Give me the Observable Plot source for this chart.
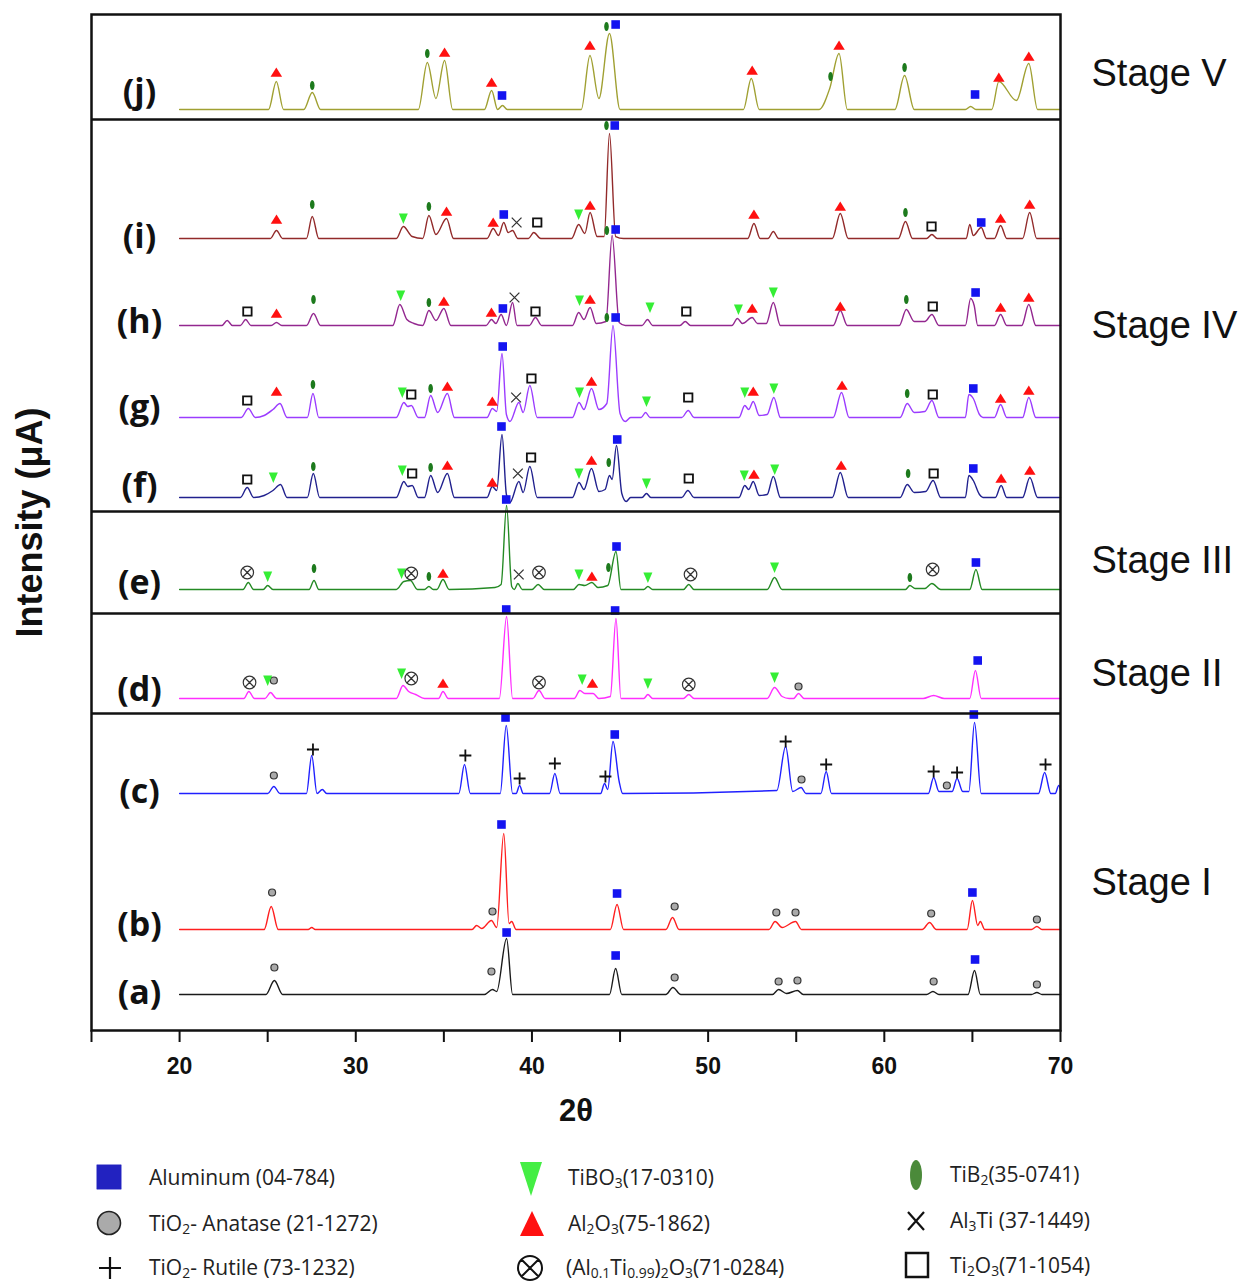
<!DOCTYPE html>
<html><head><meta charset="utf-8">
<script src="https://cdn.jsdelivr.net/npm/d3@7"></script>
<script src="https://cdn.jsdelivr.net/npm/@observablehq/plot@0.6"></script>
<style>
body{margin:0;background:#fff;font-family:"Open Sans",sans-serif;}
#wrap{position:relative;width:1243px;height:1285px;overflow:hidden;background:#fff}
#legend{position:relative;width:1243px;height:135px}
.lg{position:absolute;font-size:21px;color:#222;white-space:nowrap;line-height:1;transform:translateY(-50%)}
.lg sub{font-size:0.66em;vertical-align:-0.25em;line-height:0}
</style></head><body><div id="wrap"></div>
<script>
// ---- x-ray diffraction patterns: [2θ, intensity above own baseline] ----
const pj = [[20,0],[25.05,0],[25.49,28],[25.9,0],[27.05,0],[27.53,17],[28.0,0],[33.55,0],[34.06,47],[34.55,11],[35.04,49],[35.5,0],[37.3,0],[37.71,19],[38.05,0],[38.33,4],[38.6,0],[42.8,0],[43.29,54],[43.8,11],[44.4,76],[45.0,0],[52.0,0],[52.45,31],[52.9,0],[56.3,0],[56.9,21],[57.43,56],[57.9,0],[60.6,0],[61.15,34],[61.7,0],[64.6,0],[64.9,3],[65.2,0],[66.1,0],[66.5,28],[67.5,9],[68.2,46],[68.7,0],[70,0]];
const pi = [[20,0],[25.15,0],[25.5,8],[25.85,0],[27.2,0],[27.53,22],[27.9,0],[32.3,0],[32.7,12],[33.2,2],[33.8,0],[34.15,23],[34.55,4],[35.15,20],[35.55,0],[37.45,0],[37.8,10],[38.1,3],[38.4,16],[38.65,6],[38.9,8],[39.2,0],[39.8,0],[40.1,6],[40.5,0],[42.25,0],[42.65,14],[43.0,5],[43.3,26],[43.7,2],[44.1,2],[44.4,105],[44.75,2],[45.2,0],[52.25,0],[52.6,15],[52.95,0],[53.4,0],[53.7,7],[54.0,0],[57.05,0],[57.5,25],[57.95,0],[60.8,0],[61.2,17],[61.6,0],[62.4,0],[62.7,4],[63.0,0],[64.65,0],[64.85,14],[65.05,3],[65.5,11],[65.8,0],[66.25,0],[66.6,13],[66.95,0],[67.85,0],[68.25,26],[68.65,0],[70,0]];
const ph = [[20,0],[22.4,0],[22.7,5],[23.0,0],[23.45,0],[23.75,6],[24.05,0],[25.2,0],[25.5,3],[25.8,0],[27.2,0],[27.6,12],[28.0,0],[32.1,0],[32.5,21],[32.9,6],[33.3,2],[33.8,0],[34.15,15],[34.55,5],[35.0,17],[35.4,0],[37.4,0],[37.7,6],[37.95,2],[38.25,11],[38.55,0],[38.9,23],[39.15,0],[39.85,0],[40.2,8],[40.55,0],[42.3,0],[42.65,13],[42.95,6],[43.3,18],[43.65,2],[44.2,4],[44.55,90],[44.95,3],[45.3,0],[46.25,0],[46.56,6],[46.85,0],[48.4,0],[48.7,4],[49.0,0],[51.35,0],[51.66,7],[51.95,2],[52.5,8],[52.8,2],[53.3,2],[53.7,23],[54.1,0],[57.1,0],[57.5,15],[57.9,0],[60.85,0],[61.25,16],[61.7,4],[62.3,4],[62.7,11],[63.1,0],[64.6,0],[64.9,27],[65.1,20],[65.3,0],[66.25,0],[66.6,11],[66.95,0],[67.8,0],[68.2,21],[68.6,0],[70,0]];
const pg = [[20,0],[23.5,0],[23.9,9],[24.3,0],[24.8,2],[25.3,8],[25.7,14],[26.1,0],[27.25,0],[27.57,24],[27.9,0],[32.3,0],[32.73,15],[32.95,11],[33.15,12],[33.55,0],[33.9,0],[34.25,22],[34.65,5],[35.2,24],[35.6,0],[37.45,0],[37.75,9],[38.0,6],[38.3,64],[38.55,3],[38.75,-4],[39.26,15],[39.5,5],[39.88,32],[40.3,0],[42.3,0],[42.67,15],[42.95,8],[43.38,29],[43.8,8],[44.25,14],[44.6,92],[45.0,4],[45.3,-4],[45.6,0],[46.2,0],[46.45,5],[46.7,0],[48.5,0],[48.87,7],[49.2,0],[51.75,0],[52.08,12],[52.3,8],[52.56,16],[52.9,2],[53.35,3],[53.73,20],[54.1,0],[57.1,0],[57.57,25],[58.0,0],[60.9,0],[61.3,14],[61.7,5],[62.3,6],[62.7,17],[63.1,0],[64.6,0],[64.8,23],[65.05,19],[65.4,3],[65.6,0],[66.25,0],[66.6,13],[66.95,0],[67.85,0],[68.2,20],[68.6,0],[70,0]];
const pf = [[20,0],[23.45,0],[23.84,10],[24.2,0],[24.8,2],[25.3,7],[25.73,13],[26.1,0],[27.25,0],[27.59,24],[27.95,0],[32.3,0],[32.73,16],[32.95,11],[33.2,12],[33.55,0],[33.9,0],[34.25,22],[34.65,5],[35.2,24],[35.6,0],[37.45,0],[37.75,11],[38.0,7],[38.3,63],[38.55,3],[38.75,-5],[39.26,16],[39.5,5],[39.88,31],[40.3,0],[42.3,0],[42.67,15],[42.95,8],[43.38,29],[43.8,6],[44.15,8],[44.4,22],[44.55,18],[44.8,52],[45.1,4],[45.35,-4],[45.6,0],[46.25,0],[46.5,4],[46.75,0],[48.5,0],[48.85,7],[49.2,0],[51.75,0],[52.08,12],[52.3,8],[52.56,16],[52.9,2],[53.35,3],[53.7,21],[54.1,0],[57.05,0],[57.5,25],[57.95,0],[60.9,0],[61.3,13],[61.7,5],[62.35,6],[62.77,17],[63.2,0],[64.6,0],[64.8,22],[65.05,17],[65.4,3],[65.6,0],[66.3,0],[66.63,12],[66.95,0],[67.85,0],[68.26,20],[68.7,0],[70,0]];
const pe = [[20,0],[23.6,0],[23.9,7],[24.2,0],[24.75,0],[25.0,4],[25.3,0],[27.35,0],[27.63,9],[27.9,0],[32.3,0],[32.73,8],[33.1,9],[33.5,0],[33.9,0],[34.15,3],[34.4,0],[34.6,0],[34.95,10],[35.3,0],[37.9,2],[38.25,5],[38.56,84],[38.85,3],[39.0,0],[39.2,6],[39.45,0],[40.0,0],[40.35,5],[40.7,0],[42.35,0],[42.67,5],[43.0,4],[43.4,7],[43.75,2],[44.3,4],[44.77,38],[45.05,0],[46.35,0],[46.58,3],[46.85,0],[48.6,0],[48.9,5],[49.2,0],[53.35,0],[53.77,12],[54.2,0],[61.2,0],[61.45,4],[61.75,1],[62.3,1],[62.7,6],[63.2,0],[64.85,0],[65.2,20],[65.55,0],[70,0]];
const pd = [[20,0],[23.65,0],[23.93,7],[24.25,0],[24.85,0],[25.16,6],[25.5,0],[32.3,0],[32.68,13],[33.0,7],[33.4,4],[33.9,0],[34.7,0],[34.95,7],[35.25,0],[38.15,0],[38.56,82],[38.9,0],[40.05,0],[40.4,8],[40.75,0],[42.4,0],[42.72,8],[43.0,5],[43.47,5],[43.8,0],[44.45,2],[44.77,80],[45.05,0],[46.35,0],[46.58,4],[46.85,0],[48.6,0],[48.9,4],[49.2,0],[53.35,0],[53.77,11],[54.2,2],[54.6,0],[54.85,0],[55.13,5],[55.45,0],[62.2,0],[62.8,3],[63.4,0],[64.85,0],[65.17,28],[65.5,0],[70,0]];
const pc = [[20,0],[25.0,0],[25.35,7],[25.7,0],[27.2,0],[27.5,38],[27.8,0],[28.1,4],[28.35,0],[35.85,0],[36.17,29],[36.5,0],[38.2,0],[38.54,68],[38.9,0],[39.1,0],[39.3,8],[39.5,0],[41.0,0],[41.3,20],[41.6,0],[43.9,0],[44.12,10],[44.3,4],[44.6,52],[44.95,12],[45.15,0],[53.9,3],[54.4,47],[54.8,2],[55.28,6],[55.55,0],[56.4,0],[56.7,22],[57.0,0],[62.5,0],[62.8,16],[63.1,2],[63.55,2],[63.85,2],[64.13,15],[64.45,2],[64.8,2],[65.12,71],[65.5,0],[68.75,0],[69.1,21],[69.45,0],[69.7,0],[69.9,8],[70,4]];
const pb = [[20,0],[24.8,0],[25.2,23],[25.6,0],[27.3,0],[27.5,2],[27.7,0],[36.6,0],[36.86,4],[37.15,1],[37.7,9],[38.0,2],[38.4,96],[38.7,6],[38.85,8],[39.1,0],[44.45,0],[44.83,25],[45.2,0],[47.6,0],[47.98,12],[48.35,0],[53.45,0],[53.8,8],[54.2,2],[54.96,8],[55.3,0],[62.15,0],[62.57,7],[62.95,0],[64.7,0],[65.0,29],[65.3,4],[65.45,8],[65.7,0],[68.35,0],[68.66,3],[68.95,0],[70,0]];
const pa = [[20,0],[24.9,0],[25.38,14],[25.85,0],[37.3,0],[37.76,5],[38.0,3],[38.56,56],[38.9,0],[44.4,0],[44.75,26],[45.1,0],[47.6,0],[48.0,7],[48.45,0],[53.65,0],[54.0,5],[54.45,1],[55.07,4],[55.4,0],[62.4,0],[62.76,3],[63.1,0],[64.75,0],[65.12,24],[65.45,0],[68.35,0],[68.66,2],[68.95,0],[70,0]];

// ---- phase markers: [phase, 2θ, intensity above own baseline] ----
const mj = [["AO",25.49,37],["TiB2",27.53,24],["TiB2",34.06,56],["AO",35.04,57],["AO",37.71,27],["Al",38.3,14],["AO",43.29,64],["TiB2",44.23,83],["Al",44.75,85],["AO",52.5,39],["TiB2",56.95,33],["AO",57.43,64],["TiB2",61.15,42],["Al",65.15,15],["AO",66.5,32],["AO",68.2,53]];
const mi = [["AO",25.5,19],["TiB2",27.53,34],["TB",32.7,20],["TiB2",34.15,32],["AO",35.15,27],["AO",37.8,16],["Al",38.4,24],["Al3Ti",39.13,16],["T2O3",40.3,16],["TB",42.65,24],["AO",43.3,33],["TiB2",44.23,113],["Al",44.7,113],["AO",52.6,24],["AO",57.5,32],["TiB2",61.2,26],["T2O3",62.68,12],["Al",65.5,16],["AO",66.6,20],["AO",68.25,34]];
const mh = [["T2O3",23.85,14],["AO",25.5,12],["TiB2",27.6,26],["TB",32.55,30],["TiB2",34.15,23],["AO",35.0,24],["AO",37.7,13],["Al",38.35,17],["Al3Ti",39.01,28],["T2O3",40.2,14],["TB",42.7,25],["AO",43.3,26],["TiB2",44.25,95],["Al",44.75,96],["TB",46.7,18],["T2O3",48.76,14],["TB",51.72,16],["AO",52.5,17],["TB",53.7,33],["AO",57.5,19],["TiB2",61.25,26],["T2O3",62.75,19],["Al",65.18,33],["AO",66.6,18],["AO",68.2,28]];
const mg = [["T2O3",23.84,17],["AO",25.5,26],["TiB2",27.57,33],["TB",32.64,25],["T2O3",33.15,23],["TiB2",34.25,29],["AO",35.2,31],["AO",37.75,16],["Al",38.34,71],["Al3Ti",39.1,20],["T2O3",39.97,39],["TB",42.7,25],["AO",43.38,36],["TiB2",44.25,100],["Al",44.75,100],["TB",46.5,16],["T2O3",48.87,20],["TB",52.08,25],["AO",52.56,26],["TB",53.73,29],["AO",57.6,32],["TiB2",61.3,24],["T2O3",62.75,23],["Al",65.05,29],["AO",66.6,19],["AO",68.2,27]];
const mf = [["T2O3",23.84,18],["TB",25.32,20],["TiB2",27.59,31],["TB",32.64,27],["T2O3",33.2,24],["TiB2",34.25,30],["AO",35.2,32],["AO",37.75,15],["Al",38.27,71],["Al3Ti",39.2,24],["T2O3",39.95,40],["TB",42.67,24],["AO",43.38,37],["TiB2",44.36,35],["Al",44.84,58],["TB",46.5,14],["T2O3",48.9,19],["TB",52.05,22],["AO",52.6,23],["TB",53.78,28],["AO",57.55,32],["TiB2",61.35,24],["T2O3",62.8,24],["Al",65.05,29],["AO",66.63,19],["AO",68.26,27]];
const me = [["AT",23.84,17],["TB",25.0,13],["TiB2",27.63,21],["TB",32.6,16],["AT",33.15,16],["TiB2",34.15,13],["AO",34.95,16],["Al",38.54,90],["Al3Ti",39.25,15],["AT",40.4,17],["TB",42.67,15],["AO",43.4,13],["TiB2",44.34,22],["Al",44.8,43],["TB",46.58,12],["AT",49.0,15],["TB",53.77,22],["TiB2",61.45,12],["AT",62.74,20],["Al",65.2,27]];
const md = [["AT",23.97,16],["TB",25.0,18],["An",25.35,18],["TB",32.6,25],["AT",33.15,20],["AO",34.95,15],["Al",38.54,89],["AT",40.4,16],["TB",42.85,19],["AO",43.43,15],["Al",44.72,88],["TB",46.58,15],["AT",48.9,14],["TB",53.77,21],["An",55.13,12],["Al",65.3,38]];
const mc = [["An",25.35,18],["Ru",27.57,44],["Ru",36.22,38],["Al",38.5,76],["Ru",39.3,15],["Ru",41.3,30],["Ru",44.17,17],["Al",44.7,59],["Ru",54.4,52],["An",55.3,14],["Ru",56.7,29],["Ru",62.8,22],["An",63.55,8],["Ru",64.13,21],["Al",65.08,79],["Ru",69.15,29]];
const mb = [["An",25.25,37],["An",37.76,18],["Al",38.27,105],["Al",44.83,36],["An",48.1,23],["An",53.87,17],["An",54.96,17],["An",62.66,16],["Al",65.0,37],["An",68.66,10]];
const ma = [["An",25.38,27],["An",37.7,23],["Al",38.56,62],["Al",44.75,39],["An",48.1,17],["An",54.0,13],["An",55.07,14],["An",62.8,13],["Al",65.15,35],["An",68.66,10]];

const curveNames = ["j","i","h","g","f","e","d","c","b","a"];
const curvePoints = {j:pj,i:pi,h:ph,g:pg,f:pf,e:pe,d:pd,c:pc,b:pb,a:pa};
const curveMarkers = {j:mj,i:mi,h:mh,g:mg,f:mf,e:me,d:md,c:mc,b:mb,a:ma};
const stageNames = ["Stage V","Stage IV","Stage III","Stage II","Stage I"];
const xTicks = [15,20,25,30,35,40,45,50,55,60,65,70];
const legendLabels = {
  Al:"Aluminum (04-784)", An:"TiO<sub>2</sub>- Anatase (21-1272)", Ru:"TiO<sub>2</sub>- Rutile (73-1232)",
  TB:"TiBO<sub>3</sub>(17-0310)", AO:"Al<sub>2</sub>O<sub>3</sub>(75-1862)", AT:"(Al<sub>0.1</sub>Ti<sub>0.99</sub>)<sub>2</sub>O<sub>3</sub>(71-0284)",
  TiB2:"TiB<sub>2</sub>(35-0741)", Al3Ti:"Al<sub>3</sub>Ti (37-1449)", T2O3:"Ti<sub>2</sub>O<sub>3</sub>(71-1054)"
};

// ---- layout (stack offsets in intensity units) ----
const baseOffset = {j:921,i:792,h:705,g:613,f:533,e:441,d:332,c:237,b:101,a:36};
const labelY = {j:938,i:793,h:708,g:622,f:544,e:447,d:340,c:238,b:105,a:37};
const stageY = [957,705,470,357,148];
const panelBreaks = [911,519,417,317];
const curveColor = {j:"#a0a032",i:"#922a2a",h:"#93278f",g:"#9b3cff",f:"#21218e",e:"#248a24",d:"#ff2eff",c:"#2020ff",b:"#ff1f1f",a:"#1a1a1a"};
const SANS = "'Liberation Sans', Arial, sans-serif";

// ---- symbols ----
function ell(c, rx, ry){const k=0.5523;c.moveTo(0,-ry);c.bezierCurveTo(k*rx,-ry,rx,-k*ry,rx,0);c.bezierCurveTo(rx,k*ry,k*rx,ry,0,ry);c.bezierCurveTo(-k*rx,ry,-rx,k*ry,-rx,0);c.bezierCurveTo(-rx,-k*ry,-k*rx,-ry,0,-ry);c.closePath();}
const R = s => Math.sqrt(s/Math.PI);
const symSquare = {draw(c,s){const r=R(s);c.moveTo(-r,-r);c.lineTo(r,-r);c.lineTo(r,r);c.lineTo(-r,r);c.closePath();}};
const symTriUp = {draw(c,s){const r=R(s);c.moveTo(0,-r);c.lineTo(r*1.15,r*0.85);c.lineTo(-r*1.15,r*0.85);c.closePath();}};
const symTriDown = {draw(c,s){const r=R(s);c.moveTo(0,r*1.1);c.lineTo(r*0.9,-r);c.lineTo(-r*0.9,-r);c.closePath();}};
const symEllipse = {draw(c,s){const r=R(s);ell(c,r*0.5,r);}};
const symPlus = {draw(c,s){const r=R(s);c.moveTo(-r,0);c.lineTo(r,0);c.moveTo(0,-r);c.lineTo(0,r);}};
const symTimes = {draw(c,s){const r=R(s)*0.75;c.moveTo(-r,-r);c.lineTo(r,r);c.moveTo(r,-r);c.lineTo(-r,r);}};
const symCircTimes = {draw(c,s){const r=R(s);c.moveTo(r,0);c.arc(0,0,r,0,2*Math.PI);const q=r*0.707;c.moveTo(-q,-q);c.lineTo(q,q);c.moveTo(q,-q);c.lineTo(-q,q);}};
const phaseStyle = {
  Al:{symbol:symSquare,r:4.3,fill:"#1414f0",stroke:"none",sw:0},
  An:{symbol:"circle",r:3.5,fill:"#aaaaaa",stroke:"#333",sw:1.2},
  Ru:{symbol:symPlus,r:6,fill:"none",stroke:"#111",sw:1.8},
  TB:{symbol:symTriDown,r:5,fill:"#35ee35",stroke:"none",sw:0},
  AO:{symbol:symTriUp,r:5,fill:"#ff1010",stroke:"none",sw:0},
  AT:{symbol:symCircTimes,r:6.3,fill:"none",stroke:"#333",sw:1.2},
  TiB2:{symbol:symEllipse,r:4.6,fill:"#1d7a1d",stroke:"none",sw:0},
  Al3Ti:{symbol:symTimes,r:6.5,fill:"none",stroke:"#333",sw:1.3},
  T2O3:{symbol:symSquare,r:4.2,fill:"#fff",stroke:"#111",sw:1.8}
};

const markerData = curveNames.flatMap(k => curveMarkers[k].map(([t,x,h]) => ({type:t, x, y:h+baseOffset[k]})));

const marks = [];
for (const k of curveNames) {
  marks.push(Plot.line(curvePoints[k], {x:d=>d[0], y:d=>d[1]+baseOffset[k], stroke:curveColor[k], strokeWidth:1.4, curve:"monotone-x"}));
}
for (const t of Object.keys(phaseStyle)) {
  const st = phaseStyle[t];
  marks.push(Plot.dot(markerData.filter(d=>d.type===t), {x:"x", y:"y", symbol:st.symbol, r:st.r, fill:st.fill, stroke:st.stroke, strokeWidth:st.sw}));
}
marks.push(
  Plot.ruleY(panelBreaks, {stroke:"#111", strokeWidth:2.5}),
  Plot.frame({stroke:"#111", strokeWidth:2.5}),
  Plot.axisX({ticks:xTicks, tickSize:12, tickPadding:15, strokeWidth:2, tickFormat:d => d%10===0 ? String(d) : "", fontSize:23, fontWeight:"bold", fontFamily:SANS, fill:"#111", label:null}),
  Plot.text(curveNames, {frameAnchor:"left", y:k=>labelY[k], text:k=>"("+k+")", dx:48, textAnchor:"middle", fontSize:34, fontWeight:"bold", fontFamily:"Open Sans", fill:"#111"}),
  Plot.text(stageNames, {frameAnchor:"right", y:(d,i)=>stageY[i], text:d=>d, dx:31, textAnchor:"start", fontSize:38, fontFamily:SANS, fill:"#111"}),
  Plot.text(["2θ"], {frameAnchor:"bottom", dy:90, text:d=>d, textAnchor:"middle", fontSize:31, fontWeight:"bold", fontFamily:SANS, fill:"#111"}),
  Plot.text(["Intensity (μA)"], {frameAnchor:"left", dx:-61, rotate:-90, text:d=>d, textAnchor:"middle", fontSize:36, fontWeight:"bold", fontFamily:SANS, fill:"#111"})
);

const chart = Plot.plot({
  width:1243, height:1150,
  marginLeft:91, marginRight:183, marginTop:14, marginBottom:120,
  x:{domain:[15,70]},
  y:{domain:[0,1016], axis:null},
  style:{fontFamily:SANS, background:"#fff", color:"#111"},
  marks
});
const wrap = document.getElementById("wrap");
wrap.appendChild(chart);

// ---- legend (HTML below the SVG) ----
const legend = d3.select(wrap).append("div").attr("id","legend");
const legendItems = [
  ["Al",   109, 1177, 149, 1177], ["An", 109, 1223, 149, 1223], ["Ru", 110, 1268, 149, 1267],
  ["TB",   531, 1179, 568, 1177], ["AO", 532, 1224, 568, 1223], ["AT", 530, 1268, 566, 1267],
  ["TiB2", 916, 1175, 950, 1174], ["Al3Ti", 916, 1221, 950, 1220], ["T2O3", 917, 1265, 950, 1265]
];
const top0 = 1150;
const lsvg = legend.append("svg").attr("width",1243).attr("height",135).style("position","absolute").style("left","0").style("top","0");
const legendSym = {
  Al:{type:symSquare, size:Math.PI*12.2*12.2, fill:"#2222c0", stroke:"#2222c0", sw:0.5},
  An:{type:d3.symbolCircle, size:Math.PI*11.5*11.5, fill:"#aaaaaa", stroke:"#222", sw:1.6},
  Ru:{type:symPlus, size:Math.PI*11*11, fill:"none", stroke:"#111", sw:2.2},
  TB:{type:{draw(c,s){c.moveTo(0,17);c.lineTo(11,-17);c.lineTo(-11,-17);c.closePath();}}, size:1, fill:"#44ee44", stroke:"none", sw:0},
  AO:{type:{draw(c,s){c.moveTo(0,-13);c.lineTo(12,12);c.lineTo(-12,12);c.closePath();}}, size:1, fill:"#ff1010", stroke:"none", sw:0},
  AT:{type:symCircTimes, size:Math.PI*12*12, fill:"none", stroke:"#111", sw:2},
  TiB2:{type:{draw(c,s){ell(c,6,15);}}, size:1, fill:"#4b8a3a", stroke:"none", sw:0},
  Al3Ti:{type:{draw(c,s){c.moveTo(-8,-9);c.lineTo(8,9);c.moveTo(8,-9);c.lineTo(-8,9);}}, size:1, fill:"none", stroke:"#111", sw:2.2},
  T2O3:{type:{draw(c,s){c.moveTo(-11,-12);c.lineTo(11,-12);c.lineTo(11,12);c.lineTo(-11,12);c.closePath();}}, size:1, fill:"#fff", stroke:"#111", sw:2.5}
};
for (const [k, sx, sy, tx, ty] of legendItems) {
  const s = legendSym[k];
  lsvg.append("path").attr("d", d3.symbol(s.type, s.size)()).attr("transform", `translate(${sx},${sy-top0})`)
    .attr("fill", s.fill).attr("stroke", s.stroke).attr("stroke-width", s.sw);
  legend.append("div").attr("class","lg").style("left", tx+"px").style("top", (ty-top0)+"px").html(legendLabels[k]);
}
</script></body></html>
